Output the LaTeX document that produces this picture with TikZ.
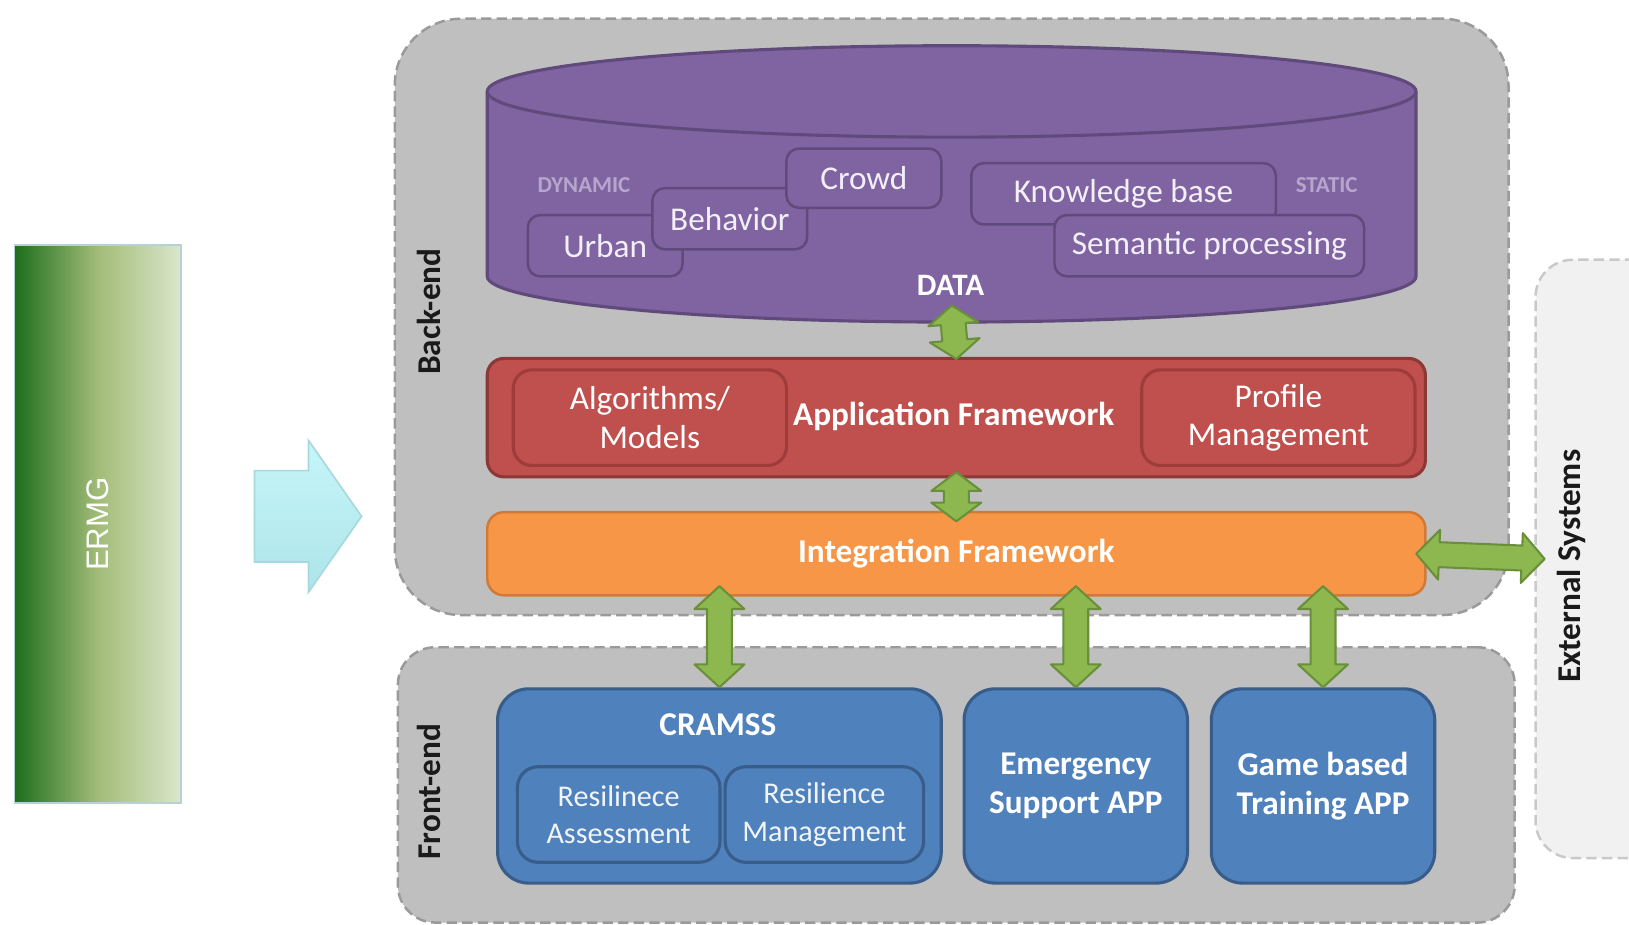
\documentclass[tikz,border=0pt]{standalone}
\usepackage{fontspec}
\setmainfont{Carlito}
\newfontfamily\ermgfont{Liberation Sans}
\usetikzlibrary{calc}

\definecolor{regionfill}{HTML}{BFBFBF}
\definecolor{regionline}{HTML}{9A9A9A}
\definecolor{extfill}{HTML}{F1F1F1}
\definecolor{extline}{HTML}{C9C9C9}
\definecolor{datafill}{HTML}{8064A2}
\definecolor{dataline}{HTML}{5F4A7B}
\definecolor{datatext}{HTML}{F3EFF8}
\definecolor{dynlabel}{HTML}{B7A6CC}
\definecolor{appfill}{HTML}{C0504D}
\definecolor{appline}{HTML}{8C3836}
\definecolor{appinner}{HTML}{9E3C3A}
\definecolor{intfill}{HTML}{F79646}
\definecolor{intline}{HTML}{D07A35}
\definecolor{frontfill}{HTML}{4F81BD}
\definecolor{frontline}{HTML}{385D8A}
\definecolor{arrowfill}{HTML}{8DB84F}
\definecolor{arrowline}{HTML}{6A8F3A}
\definecolor{ermgdark}{HTML}{1D6E1D}
\definecolor{ermgmid}{HTML}{A2BC78}
\definecolor{ermglight}{HTML}{DAE6CB}
\definecolor{ermgline}{HTML}{B5D3D6}
\definecolor{cyanfill}{HTML}{C6F6F9}
\definecolor{cyanfilldark}{HTML}{ADE4E9}
\definecolor{cyanline}{HTML}{A6D9DE}
\definecolor{labeltext}{HTML}{1A1A1A}

% fat double arrow between two points, optional head length
\newcommand{\greenarrow}[3][11pt]{%
  \coordinate (ga) at #2;
  \coordinate (gb) at #3;
  \coordinate (ha) at ($(ga)!#1!(gb)$);
  \coordinate (hb) at ($(gb)!#1!(ga)$);
  \draw[garrow] (ga) -- ($(ha)!12pt!90:(gb)$) -- ($(ha)!6pt!90:(gb)$)
    -- ($(hb)!6pt!-90:(ga)$) -- ($(hb)!12pt!-90:(ga)$) -- (gb)
    -- ($(hb)!12pt!90:(ga)$) -- ($(hb)!6pt!90:(ga)$)
    -- ($(ha)!6pt!-90:(gb)$) -- ($(ha)!12pt!-90:(gb)$) -- cycle;
}

\begin{document}
\begin{tikzpicture}[x=0.5pt, y=-0.5pt,
    region/.style={draw=regionline, fill=regionfill, line width=1.2pt, dash pattern=on 5pt off 2.5pt, inner sep=0pt},
    databox/.style={draw=dataline, fill=datafill, line width=1.2pt, rounded corners=6pt, inner sep=0pt, text=datatext, font=\fontsize{16}{19}\selectfont},
    dyntext/.style={text=dynlabel, font=\bfseries\fontsize{11}{13}\selectfont},
    appbox/.style={draw=appline, fill=appfill, line width=1.5pt, rounded corners=9pt, inner sep=0pt, text=white, align=center, font=\fontsize{16}{18.5}\selectfont},
    frontbox/.style={draw=frontline, fill=frontfill, line width=1.5pt, rounded corners=15pt, inner sep=0pt, text=white, align=center, font=\bfseries\fontsize{16}{19}\selectfont},
    subbox/.style={draw=frontline, fill=frontfill, line width=1.5pt, rounded corners=10pt, inner sep=0pt, text=white!92!frontfill, align=center, font=\fontsize{14.5}{18}\selectfont},
    sidelabel/.style={rotate=90, text=labeltext, font=\bfseries\fontsize{16}{19}\selectfont},
    garrow/.style={draw=arrowline, fill=arrowfill, line width=1pt, line join=round}]

    \useasboundingbox (0,0) rectangle (1568,890);
    \clip (0,0) rectangle (1568,890);

    % regions
    \node[region, rounded corners=32pt, minimum width=536pt, minimum height=287pt] (backend) at (916,305) {};
    \node[region, rounded corners=18pt, minimum width=537.5pt, minimum height=132.5pt] (frontend) at (920.5,755.5) {};
    \node[region, draw=extline, fill=extfill, rounded corners=18pt, minimum width=81pt, minimum height=288pt] (extsys) at (1559,538) {};

    \node[sidelabel] at (413,300) {Back-end};
    \node[sidelabel] at (413,762) {Front-end};
    \node[sidelabel] at (1513,545) {External Systems};

    % ERMG block and the big arrow
    \node[draw=ermgline, line width=0.8pt, left color=ermgdark, right color=ermglight, middle color=ermgmid, minimum width=80pt, minimum height=268.5pt] (ermg) at (94,504.5) {};
    \node[rotate=90, text=white, font=\ermgfont\fontsize{15}{18}\selectfont] at (ermg) {ERMG};
    \draw[cyanline, line width=0.8pt, top color=cyanfill, bottom color=cyanfilldark] (245,453) -- (297,453) -- (297,424) -- (348,497) -- (297,570) -- (297,541) -- (245,541) -- cycle;

    % DATA cylinder
    \draw[dataline, fill=datafill, line width=1.5pt] (469,88) -- (469,266) arc[start angle=180, end angle=360, x radius=223.5pt, y radius=22pt] -- (1363,88) arc[start angle=0, end angle=180, x radius=223.5pt, y radius=22pt] -- cycle;
    \draw[dataline, line width=1.5pt] (469,88) arc[start angle=180, end angle=360, x radius=223.5pt, y radius=22pt];
    \coordinate (datab) at (916,294);

    \node[dyntext] at (562,178) {DYNAMIC};
    \node[dyntext] at (1277,178) {STATIC};
    \node[databox, minimum width=74.5pt, minimum height=29.5pt] (urban) at (582.5,236.5) {Urban};
    \node[databox, minimum width=74.5pt, minimum height=29.5pt] (behavior) at (702.5,210.5) {Behavior};
    \node[databox, minimum width=74.5pt, minimum height=28.5pt] (crowd) at (831.5,171.5) {Crowd};
    \node[databox, minimum width=146.5pt, minimum height=29.5pt] (knowledge) at (1081.5,186.5) {Knowledge base};
    \node[databox, minimum width=149pt, minimum height=29.5pt] (semantic) at (1164,236.5) {Semantic processing};
    \node[text=white, font=\bfseries\fontsize{15}{18}\selectfont] (datalbl) at (915,275) {DATA};

    % application framework
    \node[appbox, rounded corners=8pt, minimum width=451.5pt, minimum height=57pt] (app) at (920.5,402) {};
    \node[appbox, draw=appinner, minimum width=131.5pt, minimum height=46pt] (algo) at (625.5,402) {Algorithms/\\Models};
    \node[appbox, draw=appinner, minimum width=131.5pt, minimum height=46pt] (profile) at (1230.5,402) {Profile\\Management};
    \node[text=white, font=\bfseries\fontsize{16}{19}\selectfont] at (918,401) {Application Framework};

    % integration framework
    \node[draw=intline, fill=intfill, line width=1.2pt, rounded corners=8pt, minimum width=451.5pt, minimum height=40pt, text=white, font=\bfseries\fontsize{16}{19}\selectfont] (integ) at (920.5,533) {Integration Framework};

    % front-end apps
    \node[frontbox, minimum width=213.5pt, minimum height=93.5pt] (cramss) at (692.5,756.5) {};
    \node[text=white, font=\bfseries\fontsize{16}{19}\selectfont] at (691,698) {CRAMSS};
    \node[subbox, minimum width=97.5pt, minimum height=46pt] (assess) at (595.5,784) {Resilinece\\Assessment};
    \node[subbox, minimum width=95.5pt, minimum height=46pt] (manage) at (793.5,784) {Resilience\\Management};
    \node[frontbox, minimum width=107.5pt, minimum height=93.5pt] (emerg) at (1035.5,756.5) {Emergency\\Support APP};
    \node[frontbox, minimum width=107.5pt, minimum height=93.5pt] (game) at (1273.5,756.5) {Game based\\Training APP};

    % green arrows
    \greenarrow[9pt]{(datab)}{($(app.north)+(0,2)$)}
    \greenarrow[9pt]{($(app.south)+(0,-6)$)}{($(integ.north)+(0,10)$)}
    \greenarrow{($(integ.south -| cramss.north)+(0,-10)$)}{(cramss.north)}
    \greenarrow{($(integ.south -| emerg.north)+(0,-10)$)}{(emerg.north)}
    \greenarrow{($(integ.south -| game.north)+(0,-10)$)}{(game.north)}
    \greenarrow{($(integ.east)+(-10,0)$)}{($(extsys.west)+(10,0)$)}

\end{tikzpicture}
\end{document}
